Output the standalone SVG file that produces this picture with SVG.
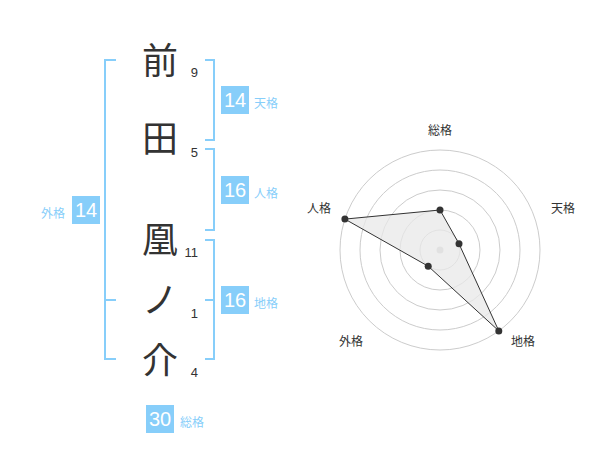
<svg xmlns="http://www.w3.org/2000/svg" width="600" height="470" viewBox="0 0 600 470">
<style>
.ch{font-family:"Noto Sans CJK JP","Noto Sans CJK SC",sans-serif;font-size:36px;fill:#333;text-anchor:middle}
.num{font-family:"Liberation Sans",Arial,sans-serif;font-size:13px;fill:#333;text-anchor:end}
.br{fill:none;stroke:#87cefa;stroke-width:2}
.box{fill:#87cefa}
.bt{font-family:"Liberation Sans",Arial,sans-serif;font-size:20px;fill:#fff;text-anchor:middle}
.lb{font-family:"Noto Sans CJK JP","Noto Sans CJK SC",sans-serif;font-size:12px;fill:#87cefa}
.ring{fill:none;stroke:#ccc;stroke-width:1}
.rl{font-family:"Noto Sans CJK JP","Noto Sans CJK SC",sans-serif;font-size:12px;fill:#333;text-anchor:middle}
.dot{fill:#333}
</style>
<rect width="600" height="470" fill="#fff"/>
<g id="chars">
<g id="c1"><text class="ch" x="160" y="74">前</text><text class="num" x="198" y="77">9</text></g>
<g id="c2"><text class="ch" x="160" y="152">田</text><text class="num" x="198" y="157">5</text></g>
<g id="c3"><text class="ch" x="160" y="253">凰</text><text class="num" x="198" y="257">11</text></g>
<g id="c4"><text class="ch" x="160" y="313">ノ</text><text class="num" x="198" y="318">1</text></g>
<g id="c5"><text class="ch" x="160" y="374">介</text><text class="num" x="198" y="377">4</text></g>
</g>
<g id="connectors">
<path class="br" d="M116,60 H105 V359 H116 M105,300 H116"/>
<path class="br" d="M205,60 H214 V140 H205"/>
<path class="br" d="M205,149 H214 V230 H205"/>
<path class="br" d="M205,240 H214 V359 H205 M205,300 H214"/>
</g>
<g id="tenkaku"><rect class="box" x="221" y="86" width="28" height="28"/><text class="bt" x="235" y="107">14</text><text class="lb" x="254" y="108">天格</text></g>
<g id="jinkaku"><rect class="box" x="221" y="176" width="28" height="28"/><text class="bt" x="235" y="197">16</text><text class="lb" x="254" y="198">人格</text></g>
<g id="chikaku"><rect class="box" x="221" y="286" width="28" height="28"/><text class="bt" x="235" y="307">16</text><text class="lb" x="254" y="308">地格</text></g>
<g id="gaikaku"><rect class="box" x="72" y="196" width="28" height="28"/><text class="bt" x="86" y="217">14</text><text class="lb" x="41" y="218">外格</text></g>
<g id="soukaku"><rect class="box" x="146" y="405" width="28" height="28"/><text class="bt" x="160" y="426">30</text><text class="lb" x="180" y="427">総格</text></g>
<g id="radar">
<circle class="ring" cx="440" cy="250" r="20"/>
<circle class="ring" cx="440" cy="250" r="40"/>
<circle class="ring" cx="440" cy="250" r="60"/>
<circle class="ring" cx="440" cy="250" r="80"/>
<circle class="ring" cx="440" cy="250" r="100"/>
<circle cx="440" cy="250" r="3.5" fill="#ccc"/>
<polygon points="440,210 459,243.8 498.8,330.9 428.2,266.2 344.9,219.1" fill="#e8e8e8" fill-opacity="0.75" stroke="#333" stroke-width="1"/>
<circle class="dot" cx="440" cy="210" r="3.5"/>
<circle class="dot" cx="459" cy="243.8" r="3.5"/>
<circle class="dot" cx="498.8" cy="330.9" r="3.5"/>
<circle class="dot" cx="428.2" cy="266.2" r="3.5"/>
<circle class="dot" cx="344.9" cy="219.1" r="3.5"/>
<text class="rl" x="440" y="135">総格</text>
<text class="rl" x="563" y="213">天格</text>
<text class="rl" x="319" y="213">人格</text>
<text class="rl" x="351" y="346">外格</text>
<text class="rl" x="523" y="346">地格</text>
</g>
</svg>
